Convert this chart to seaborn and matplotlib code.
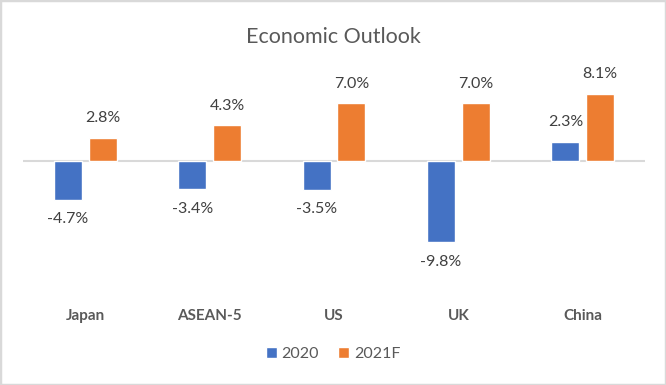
import pandas as pd
import seaborn as sns
import matplotlib.pyplot as plt
from matplotlib.patches import Rectangle

# dati
paesi = ["Japan", "ASEAN-5", "US", "UK", "China"]
val_2020 = [-4.7, -3.4, -3.5, -9.8, 2.3]
val_2021 = [2.8, 4.3, 7.0, 7.0, 8.1]
serie = ["2020", "2021F"]
colori = ["#4472C4", "#ED7D31"]

df = pd.DataFrame({
    "Paese": paesi * 2,
    "Serie": [serie[0]] * len(paesi) + [serie[1]] * len(paesi),
    "Valore": val_2020 + val_2021,
})

sns.set_style("white")
plt.rcParams["font.family"] = ["Lato", "DejaVu Sans"]

fig = plt.figure(figsize=(6.66, 3.85), dpi=100)
ax = fig.add_axes([23 / 666, 1 - 298 / 385, 622 / 666, 218 / 385])

sns.barplot(data=df, x="Paese", y="Valore", hue="Serie", order=paesi,
            hue_order=serie, palette=colori, width=0.56, gap=0.2,
            saturation=1, ax=ax, legend=True)

ax.set_ylim(-16.57, 9.79)
ax.axhline(0, color="#d9d9d9", lw=1.5, zorder=0)

for cont in ax.containers:
    etichette = [f"{b.get_height():.1f}%" for b in cont]
    ax.bar_label(cont, labels=etichette, padding=9, fontsize=11.5, color="#404040")

ax.set_xlabel("")
ax.set_ylabel("")
ax.set_yticks([])
ax.tick_params(axis="x", length=0, pad=8)
for t in ax.get_xticklabels():
    t.set_fontweight("bold")
    t.set_fontsize(11)
    t.set_color("#595959")
for s in ax.spines.values():
    s.set_visible(False)

ax.legend(loc="center", bbox_to_anchor=(333 / 666, 1 - 354 / 385),
          bbox_transform=fig.transFigure, ncol=2, frameon=False,
          fontsize=11.5, labelcolor="#595959", handlelength=0.7,
          handleheight=0.7, handletextpad=0.3, columnspacing=1.2)

fig.text(0.5, 1 - 37 / 385, "Economic Outlook", ha="center", va="center",
         fontsize=15.5, color="#595959")

fig.patches.append(Rectangle((0, 0), 1, 1, transform=fig.transFigure,
                             fill=False, edgecolor="#d9d9d9", lw=2.5))

fig.savefig("out.png", dpi=100)
